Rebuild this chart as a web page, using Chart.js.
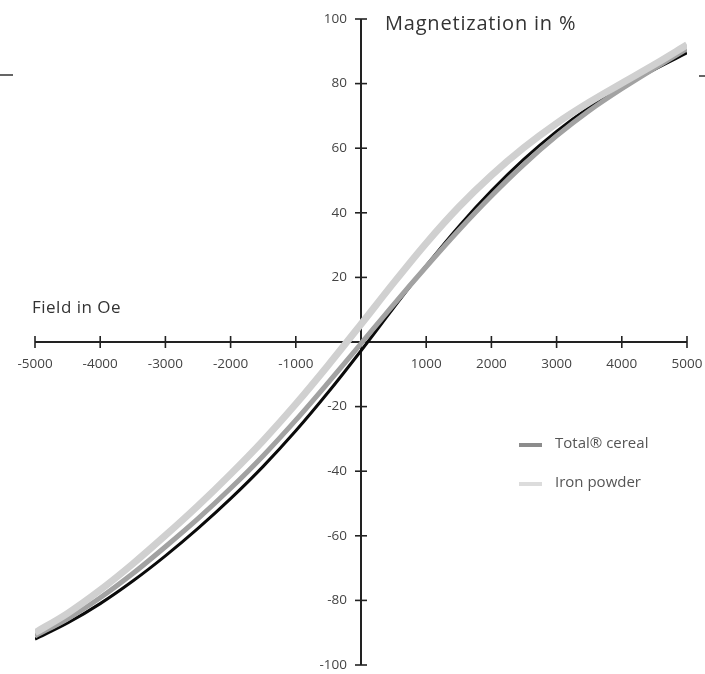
<!DOCTYPE html>
<html>
<head>
<meta charset="utf-8">
<script src="https://cdn.jsdelivr.net/npm/chart.js@4/dist/chart.umd.min.js"></script>
<style>
  html, body { margin: 0; padding: 0; background: #fff; }
  #wrap { width: 705px; height: 674px; position: relative; }
</style>
</head>
<body>
<div id="wrap"><canvas id="magnet-chart"></canvas></div>
<script>
// field values in Oe
let fieldOe = [-5000, -4500, -4000, -3500, -3000, -2500, -2000, -1500, -1000, -500, 0,
               500, 1000, 1500, 2000, 2500, 3000, 3500, 4000, 4500, 5000];

// magnetization in %
let blackBranch = [-92, -87, -81, -74, -66.2, -57.7, -48.5, -38.5, -27.5, -15.5, -2.7,
                   10.6, 23.6, 35.8, 46.8, 56.6, 65.2, 72.6, 78.9, 84.4, 89.5];
let totalCereal = [-91, -85.7, -79.2, -71.7, -63.4, -54.7, -45.3, -35.2, -24.2, -12.5, -0.5,
                   11.6, 23.3, 34.6, 45.2, 55, 63.8, 71.6, 78.4, 84.7, 90.8];
let ironPowder = [-90, -84, -76.8, -68.7, -59.9, -50.7, -40.9, -30.5, -19.2, -7.1, 5.5,
                  18.3, 30.6, 41.8, 51.6, 60.2, 67.7, 74.2, 80.1, 85.9, 92];

let xTicks = [-5000, -4000, -3000, -2000, -1000, 1000, 2000, 3000, 4000, 5000];
let yTicks = [100, 80, 60, 40, 20, -20, -40, -60, -80, -100];

function toPoints(values) {
    return values.map((v, i) => ({ x: fieldOe[i], y: v }));
}

let labelFont = '13.5px "Open Sans", sans-serif';

// axes through the origin, with ticks crossing the axis line
let crossAxes = {
    id: 'crossAxes',
    beforeDatasetsDraw(chart) {
        let ctx = chart.ctx;
        let xs = chart.scales.x, ys = chart.scales.y;
        let x0 = xs.getPixelForValue(0), y0 = ys.getPixelForValue(0);
        ctx.save();
        ctx.strokeStyle = '#222';
        ctx.lineWidth = 2;
        ctx.beginPath();
        ctx.moveTo(xs.getPixelForValue(-5000), y0);
        ctx.lineTo(xs.getPixelForValue(5000), y0);
        ctx.moveTo(x0, ys.getPixelForValue(100));
        ctx.lineTo(x0, ys.getPixelForValue(-100));
        ctx.stroke();

        ctx.lineWidth = 1.6;
        ctx.fillStyle = '#444';
        ctx.font = labelFont;
        ctx.textAlign = 'center';
        ctx.textBaseline = 'middle';
        for (let t of xTicks) {
            let px = xs.getPixelForValue(t);
            ctx.beginPath();
            ctx.moveTo(px, y0 - 6);
            ctx.lineTo(px, y0 + 6);
            ctx.stroke();
            ctx.fillText(String(t), px, y0 + 22);
        }
        ctx.textAlign = 'right';
        for (let t of yTicks) {
            let py = ys.getPixelForValue(t);
            ctx.beginPath();
            ctx.moveTo(x0 - 6, py);
            ctx.lineTo(x0 + 6, py);
            ctx.stroke();
            ctx.fillText(String(t), x0 - 14, py);
        }

        ctx.fillStyle = '#333';
        ctx.textAlign = 'left';
        ctx.textBaseline = 'alphabetic';
        ctx.letterSpacing = '0.8px';
        ctx.font = '20px "Open Sans", sans-serif';
        ctx.fillText('Magnetization in %', 385, 30);
        ctx.letterSpacing = '0.5px';
        ctx.font = '17px "Open Sans", sans-serif';
        ctx.fillText('Field in Oe', 32, 313);
        ctx.letterSpacing = '0px';

        // stray marks at the edges of the scan
        ctx.strokeStyle = '#333';
        ctx.lineWidth = 1.5;
        ctx.beginPath();
        ctx.moveTo(0, 75);
        ctx.lineTo(13, 75);
        ctx.moveTo(699, 76);
        ctx.lineTo(705, 76);
        ctx.stroke();
        ctx.restore();
    },
    afterDatasetsDraw(chart) {
        let ctx = chart.ctx;
        let items = [chart.data.datasets[1], chart.data.datasets[0]];
        let rows = [444, 483];
        ctx.save();
        ctx.font = '15px "Open Sans", sans-serif';
        ctx.textBaseline = 'middle';
        ctx.textAlign = 'left';
        items.forEach((ds, i) => {
            ctx.strokeStyle = i === 0 ? '#8c8c8c' : '#dcdcdc';
            ctx.lineWidth = 4;
            ctx.beginPath();
            ctx.moveTo(519, rows[i] + 1);
            ctx.lineTo(542, rows[i] + 1);
            ctx.stroke();
            ctx.fillStyle = '#555';
            ctx.fillText(ds.label, 555, rows[i]);
        });
        ctx.restore();
    }
};

new Chart(document.getElementById('magnet-chart').getContext('2d'), {
    type: 'scatter',
    data: {
        datasets: [
            {
                label: 'Iron powder',
                data: toPoints(ironPowder),
                showLine: true,
                borderColor: '#d0d0d0',
                borderWidth: 7,
                pointRadius: 0,
                cubicInterpolationMode: 'monotone'
            },
            {
                label: 'Total\u00AE cereal',
                data: toPoints(totalCereal),
                showLine: true,
                borderColor: '#a2a2a2',
                borderWidth: 5,
                pointRadius: 0,
                cubicInterpolationMode: 'monotone'
            },
            {
                label: 'black',
                data: toPoints(blackBranch),
                showLine: true,
                borderColor: '#0a0a0a',
                borderWidth: 3,
                pointRadius: 0,
                cubicInterpolationMode: 'monotone'
            }
        ]
    },
    options: {
        responsive: true,
        maintainAspectRatio: false,
        animation: false,
        layout: {
            padding: {top: 19, bottom: 9, left: 35, right: 18}
        },
        plugins: {
            legend: { display: false },
            tooltip: { enabled: false }
        },
        scales: {
            x: { type: 'linear', min: -5000, max: 5000, display: false },
            y: { type: 'linear', min: -100, max: 100, display: false }
        }
    },
    plugins: [crossAxes]
});
</script>
</body>
</html>
